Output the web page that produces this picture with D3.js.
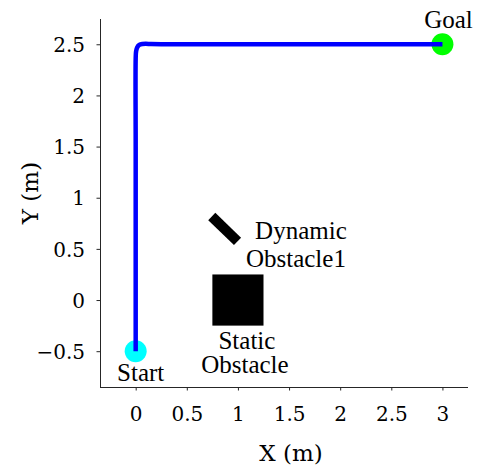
<!DOCTYPE html>
<html>
<head>
<meta charset="utf-8">
<script src="https://cdn.jsdelivr.net/npm/d3@7"></script>
<style>
  html, body { margin: 0; padding: 0; background: #fff; }
  svg { display: block; }
</style>
</head>
<body>
<svg id="chart" width="477" height="467"></svg>
<script>
// ---- data ----
const pathX = [0, 0, 0, 0, 0.004, 0.015, 0.035, 0.065, 0.1, 0.15, 0.25, 1.0, 2.0, 3.0];
const pathY = [-0.5, 0.5, 1.5, 2.36, 2.43, 2.47, 2.493, 2.503, 2.505, 2.502, 2.5, 2.5, 2.5, 2.5];

const startPoint = [0, -0.5];
const goalPoint = [3, 2.5];

// static obstacle: [xMin, xMax, yMin, yMax]
const staticObstacle = [0.75, 1.25, -0.25, 0.25];
// dynamic obstacle: center x, center y, length, width, angle (deg)
const dynamicObstacle = [0.87, 0.695, 0.35, 0.1, -44];

const xTicks = [0, 0.5, 1, 1.5, 2, 2.5, 3];
const yTicks = [-0.5, 0, 0.5, 1, 1.5, 2, 2.5];
const xDomain = [-0.349, 3.25];
const yDomain = [-0.85, 2.747];

const xTitle = "X (m)";
const yTitle = "Y (m)";

// ---- drawing ----
const svg = d3.select("#chart");
const x = d3.scaleLinear().domain(xDomain).range([100, 468]);
const y = d3.scaleLinear().domain(yDomain).range([387, 19]);

const axisColor = "#262626";
const tickFont = "DejaVu Serif, serif";
const textFont = "Liberation Serif, Times New Roman, serif";

const fmt = d3.format("~g");

// y axis
const gy = svg.append("g").attr("transform", `translate(${x(xDomain[0])},0)`)
  .call(d3.axisLeft(y).tickValues(yTicks).tickFormat(fmt).tickSize(3.5).tickPadding(11.5));
gy.select(".domain").attr("stroke", axisColor).attr("d", `M0.5,${y(yDomain[1])}V${y(yDomain[0])}`);
gy.selectAll(".tick line").attr("stroke", axisColor);
gy.selectAll(".tick text").attr("font-family", tickFont).attr("font-size", 20)
  .attr("fill", "#000").attr("dy", "0.36em");

// x axis
const gx = svg.append("g").attr("transform", `translate(0,${y(yDomain[0])})`)
  .call(d3.axisBottom(x).tickValues(xTicks).tickFormat(fmt).tickSize(3.5).tickPadding(10));
gx.select(".domain").attr("stroke", axisColor).attr("d", `M${x(xDomain[0])},0.5H${x(xDomain[1])}`);
gx.selectAll(".tick line").attr("stroke", axisColor);
gx.selectAll(".tick text").attr("font-family", tickFont).attr("font-size", 20)
  .attr("fill", "#000").attr("y", 34).attr("dy", 0);

// axis titles
svg.append("text").attr("x", 291).attr("y", 461)
  .attr("text-anchor", "middle").attr("font-family", tickFont).attr("font-size", 23)
  .attr("fill", "#000").text(xTitle);
svg.append("text").attr("transform", "translate(38,193) rotate(-90)")
  .attr("text-anchor", "middle").attr("font-family", tickFont).attr("font-size", 23)
  .attr("fill", "#000").text(yTitle);

// static obstacle
svg.append("rect")
  .attr("x", x(staticObstacle[0]))
  .attr("y", y(staticObstacle[3]))
  .attr("width", x(staticObstacle[1]) - x(staticObstacle[0]))
  .attr("height", y(staticObstacle[2]) - y(staticObstacle[3]))
  .attr("fill", "#000");

// dynamic obstacle (rotated rectangle in data coordinates)
{
  const [cx, cy, L, W, ang] = dynamicObstacle;
  const a = ang * Math.PI / 180;
  const ux = Math.cos(a), uy = Math.sin(a);
  const vx = -Math.sin(a), vy = Math.cos(a);
  const corners = [[-1, -1], [1, -1], [1, 1], [-1, 1]].map(([s, t]) => [
    cx + s * L / 2 * ux + t * W / 2 * vx,
    cy + s * L / 2 * uy + t * W / 2 * vy
  ]);
  svg.append("polygon")
    .attr("points", corners.map(p => `${x(p[0])},${y(p[1])}`).join(" "))
    .attr("fill", "#000");
}

// start and goal markers
svg.append("circle").attr("cx", x(startPoint[0])).attr("cy", y(startPoint[1]))
  .attr("r", 11).attr("fill", "#00ffff");
svg.append("circle").attr("cx", x(goalPoint[0])).attr("cy", y(goalPoint[1]))
  .attr("r", 11).attr("fill", "#00ff00");

// path
const line = d3.line().x(d => x(d[0])).y(d => y(d[1])).curve(d3.curveCatmullRom.alpha(0.5));
svg.append("path")
  .datum(pathX.map((v, i) => [v, pathY[i]]))
  .attr("d", line)
  .attr("fill", "none")
  .attr("stroke", "#0000ff")
  .attr("stroke-width", 4.5);

// annotations
function label(px, py, lines, lineGap) {
  const t = svg.append("text").attr("text-anchor", "middle")
    .attr("font-family", textFont).attr("font-size", 25).attr("fill", "#000");
  lines.forEach((s, i) => {
    t.append("tspan").attr("x", px[i] !== undefined ? px[i] : px[0])
      .attr("y", py + i * lineGap).text(s);
  });
}
label([x(goalPoint[0]) + 6], y(goalPoint[1]) - 16, ["Goal"], 0);
label([x(startPoint[0]) + 5], y(startPoint[1]) + 30, ["Start"], 0);
label([x(1) + 9, x(1) + 7], y(staticObstacle[2]) + 23, ["Static", "Obstacle"], 24.5);
label([x(1) + 63, x(1) + 58], y(dynamicObstacle[1]) + 10, ["Dynamic", "Obstacle1"], 28.5);
</script>
</body>
</html>
